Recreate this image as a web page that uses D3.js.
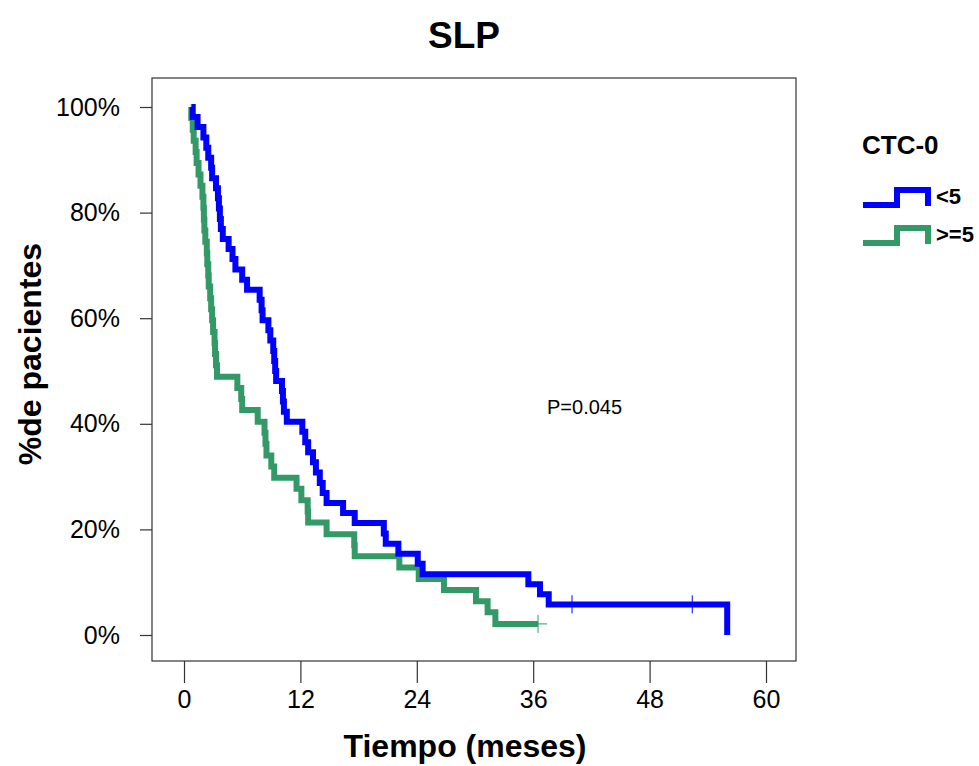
<!DOCTYPE html>
<html>
<head>
<meta charset="utf-8">
<script src="https://cdn.jsdelivr.net/npm/d3@7"></script>
<style>
  html, body { margin: 0; padding: 0; background: #fff; }
  svg { display: block; font-family: "Liberation Sans", Arial, sans-serif; }
</style>
</head>
<body>
<svg id="chart" width="979" height="766"></svg>
<script>
// ---- Data ----
const title = "SLP";
const xLabel = "Tiempo (meses)";
const yLabel = "%de pacientes";
const legendTitle = "CTC-0";
const groupNames = ["<5", ">=5"];
const groupColors = ["#0000ff", "#339966"];
const xTicks = [0, 12, 24, 36, 48, 60];
const yTicks = [0, 20, 40, 60, 80, 100];
const pText = "P=0.045";

// Group <5 : event times (months) and survival (%) after each step
const blueTimes = [0.8, 0.9, 1.4, 2.0, 2.3, 2.5, 2.8, 2.9, 3.3, 3.5, 3.6, 3.7, 3.8, 4.0, 4.6, 5.0, 5.3, 6.0, 6.5, 7.8, 8.0, 8.1, 8.7, 8.9, 9.2, 9.3, 9.4, 9.5, 10.1, 10.2, 10.3, 10.6, 12.2, 12.5, 12.8, 13.3, 13.6, 14.0, 14.3, 14.7, 16.4, 17.6, 20.6, 20.8, 22.1, 24.1, 24.6, 35.5, 36.7, 37.6, 56.0];
const blueSurv  = [100, 98.1, 96.2, 94.2, 92.3, 90.4, 88.5, 86.5, 84.6, 82.7, 80.8, 78.8, 76.9, 75.0, 73.1, 71.2, 69.2, 67.3, 65.4, 63.5, 61.5, 59.6, 57.7, 55.8, 53.8, 51.9, 50.0, 48.1, 46.2, 44.2, 42.3, 40.4, 38.5, 36.5, 34.6, 32.7, 30.8, 28.8, 26.9, 25.0, 23.1, 21.2, 19.2, 17.3, 15.4, 13.5, 11.5, 9.6, 7.7, 5.8, 0];
const blueCensorTimes = [40.0, 52.4];
const blueCensorSurv  = [5.8, 5.8];

// Group >=5
const greenTimes = [0.7, 0.75, 0.9, 1.0, 1.2, 1.3, 1.5, 1.7, 1.9, 2.0, 2.05, 2.1, 2.2, 2.35, 2.4, 2.5, 2.55, 2.7, 2.8, 2.9, 3.0, 3.15, 3.2, 3.3, 3.4, 5.5, 5.9, 6.0, 7.6, 8.3, 8.4, 8.5, 9.0, 9.3, 11.6, 12.1, 12.75, 12.8, 14.7, 17.55, 17.6, 22.2, 24.2, 26.8, 30.1, 31.3, 32.1];
const greenSurv  = [100, 97.9, 95.7, 93.6, 91.5, 89.4, 87.2, 85.1, 83.0, 80.9, 78.7, 76.6, 74.5, 72.3, 70.2, 68.1, 66.0, 63.8, 61.7, 59.6, 57.4, 55.3, 53.2, 51.1, 48.9, 46.8, 44.7, 42.6, 40.4, 38.3, 36.2, 34.0, 31.9, 29.8, 27.7, 25.5, 23.4, 21.3, 19.1, 17.0, 14.9, 12.8, 10.6, 8.5, 6.4, 4.3, 2.1];
const greenCensorTimes = [36.5];
const greenCensorSurv  = [2.1];

// ---- Layout ----
const svg = d3.select("#chart");
const frame = {left: 152, right: 796, top: 78, bottom: 661};
const x = d3.scaleLinear().domain([0, 60]).range([184, 766]);
const y = d3.scaleLinear().domain([0, 100]).range([635, 107]);
const FONT = "Liberation Sans, Arial, sans-serif";

// frame
svg.append("rect")
  .attr("x", frame.left).attr("y", frame.top)
  .attr("width", frame.right - frame.left).attr("height", frame.bottom - frame.top)
  .attr("fill", "none").attr("stroke", "#333").attr("stroke-width", 1.2);

// x axis
const xAxis = d3.axisBottom(x).tickValues(xTicks).tickSize(22).tickPadding(7).tickFormat(d3.format("d"));
const gx = svg.append("g").attr("transform", `translate(0,${frame.bottom})`).call(xAxis);
gx.select(".domain").remove();
gx.selectAll("line").attr("stroke", "#333").attr("stroke-width", 1.2);
gx.selectAll("text").attr("font-size", 25).attr("fill", "#000").attr("font-family", FONT);

// y axis
const yAxis = d3.axisLeft(y).tickValues(yTicks).tickSize(12).tickPadding(20).tickFormat(d => d + "%");
const gy = svg.append("g").attr("transform", `translate(${frame.left},0)`).call(yAxis);
gy.select(".domain").remove();
gy.selectAll("line").attr("stroke", "#333").attr("stroke-width", 1.2);
gy.selectAll("text").attr("font-size", 25).attr("fill", "#000").attr("font-family", FONT);

// titles
svg.append("text").attr("x", 464).attr("y", 48).attr("text-anchor", "middle")
  .attr("font-size", 37).attr("font-weight", "bold").text(title);
svg.append("text").attr("x", 465).attr("y", 757).attr("text-anchor", "middle")
  .attr("font-size", 32).attr("font-weight", "bold").text(xLabel);
svg.append("text").attr("transform", "translate(41,354) rotate(-90)").attr("text-anchor", "middle")
  .attr("font-size", 32).attr("font-weight", "bold").text(yLabel);

// p value
svg.append("text").attr("x", 547).attr("y", 414).attr("font-size", 20).text(pText);

// curves
function stepPath(times, surv, endTime) {
  const pts = [];
  for (let i = 0; i < times.length; i++) {
    if (i > 0) pts.push([times[i], surv[i - 1]]);
    pts.push([times[i], surv[i]]);
  }
  if (endTime !== undefined && endTime > times[times.length - 1]) {
    pts.push([endTime, surv[surv.length - 1]]);
  }
  return d3.line().x(d => x(d[0])).y(d => y(d[1]))(pts);
}

const groups = [
  {times: blueTimes, surv: blueSurv, ct: blueCensorTimes, cs: blueCensorSurv, color: groupColors[0], end: undefined},
  {times: greenTimes, surv: greenSurv, ct: greenCensorTimes, cs: greenCensorSurv, color: groupColors[1], end: greenCensorTimes[greenCensorTimes.length - 1]}
];

[groups[1], groups[0]].forEach(g => {
  svg.append("path").attr("d", stepPath(g.times, g.surv, g.end))
    .attr("fill", "none").attr("stroke", g.color).attr("stroke-width", 6)
    .attr("stroke-linejoin", "miter").attr("stroke-linecap", "butt");
  const cg = svg.append("g");
  g.ct.forEach((t, i) => {
    cg.append("line").attr("x1", x(t)).attr("x2", x(t))
      .attr("y1", y(g.cs[i]) - 9).attr("y2", y(g.cs[i]) + 9)
      .attr("stroke", g.color).attr("stroke-width", 1);
    cg.append("line").attr("x1", x(t) - 9).attr("x2", x(t) + 9)
      .attr("y1", y(g.cs[i])).attr("y2", y(g.cs[i]))
      .attr("stroke", g.color).attr("stroke-width", 1);
  });
});

// legend
const lg = svg.append("g");
lg.append("text").attr("x", 862).attr("y", 154).attr("font-size", 26).attr("font-weight", "bold").text(legendTitle);
groupNames.forEach((name, i) => {
  const y0 = 205 + i * 38;
  const pts = [[863, y0], [897, y0], [897, y0 - 15], [928, y0 - 15], [928, y0 + 1]];
  lg.append("path").attr("d", d3.line()(pts)).attr("fill", "none")
    .attr("stroke", groupColors[i]).attr("stroke-width", 6).attr("stroke-linejoin", "miter");
  lg.append("text").attr("x", 936).attr("y", y0 - 1).attr("font-size", 22).attr("font-weight", "bold").text(name);
});
</script>
</body>
</html>
